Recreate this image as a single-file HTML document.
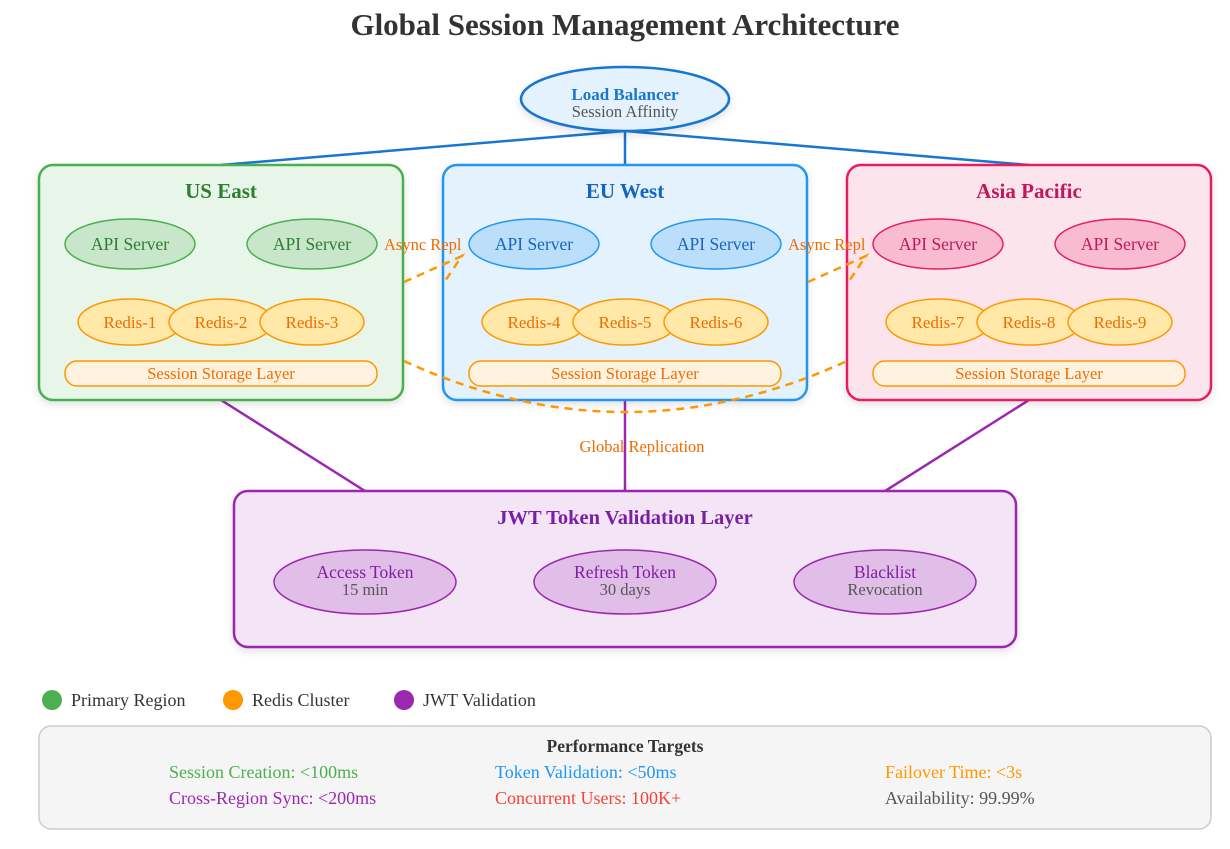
<!DOCTYPE html>
<html><head><meta charset="utf-8"><style>
body{margin:0;background:#fff;}
svg{display:block;font-family:"Liberation Serif",serif;}
</style></head><body>
<svg width="1230" height="849" viewBox="0 0 1230 849" xmlns="http://www.w3.org/2000/svg">
<defs><filter id="sh" x="-10%" y="-10%" width="120%" height="130%"><feDropShadow dx="0" dy="3" stdDeviation="4" flood-color="#000" flood-opacity="0.12"/></filter></defs>
<text x="625" y="35" text-anchor="middle" font-size="31" font-weight="bold" fill="#333">Global Session Management Architecture</text>
<g stroke="#1976d2" stroke-width="2.5">
<line x1="625" y1="131" x2="221" y2="165"/><line x1="625" y1="131" x2="625" y2="165"/><line x1="625" y1="131" x2="1029" y2="165"/>
</g>
<g stroke="#9c27b0" stroke-width="2.5">
<line x1="221" y1="400" x2="365" y2="491"/><line x1="625" y1="400" x2="625" y2="491"/><line x1="1029" y1="400" x2="885" y2="491"/>
</g>
<ellipse cx="625" cy="99" rx="104" ry="32" fill="#e3f2fd" stroke="#1976d2" stroke-width="2.5" filter="url(#sh)"/>
<text x="625" y="100" text-anchor="middle" font-size="17" font-weight="bold" fill="#1976d2">Load Balancer</text>
<text x="625" y="117" text-anchor="middle" font-size="16.5" fill="#555">Session Affinity</text>

<rect x="39" y="165" width="364" height="235" rx="14" fill="#e8f5e9" stroke="#4caf50" stroke-width="2.5" filter="url(#sh)"/>
<rect x="443" y="165" width="364" height="235" rx="14" fill="#e3f2fd" stroke="#2196f3" stroke-width="2.5" filter="url(#sh)"/>
<rect x="847" y="165" width="364" height="235" rx="14" fill="#fce4ec" stroke="#e91e63" stroke-width="2.5" filter="url(#sh)"/>
<g font-size="21" font-weight="bold" text-anchor="middle">
<text x="221" y="198" fill="#2e7d32">US East</text>
<text x="625" y="198" fill="#1565c0">EU West</text>
<text x="1029" y="198" fill="#c2185b">Asia Pacific</text>
</g>
<g font-size="17.5" text-anchor="middle">
<ellipse cx="130" cy="244" rx="65" ry="25" fill="#c8e6c9" stroke="#4caf50" stroke-width="1.5"/><text x="130" y="250" fill="#2e7d32">API Server</text>
<ellipse cx="312" cy="244" rx="65" ry="25" fill="#c8e6c9" stroke="#4caf50" stroke-width="1.5"/><text x="312" y="250" fill="#2e7d32">API Server</text>
<ellipse cx="534" cy="244" rx="65" ry="25" fill="#bbdefb" stroke="#2196f3" stroke-width="1.5"/><text x="534" y="250" fill="#1565c0">API Server</text>
<ellipse cx="716" cy="244" rx="65" ry="25" fill="#bbdefb" stroke="#2196f3" stroke-width="1.5"/><text x="716" y="250" fill="#1565c0">API Server</text>
<ellipse cx="938" cy="244" rx="65" ry="25" fill="#f8bbd0" stroke="#e91e63" stroke-width="1.5"/><text x="938" y="250" fill="#c2185b">API Server</text>
<ellipse cx="1120" cy="244" rx="65" ry="25" fill="#f8bbd0" stroke="#e91e63" stroke-width="1.5"/><text x="1120" y="250" fill="#c2185b">API Server</text>
</g>
<g font-size="17" text-anchor="middle" fill="#ef6c00">
<g fill="#ffe8a8" stroke="#ff9800" stroke-width="1.5">
<ellipse cx="130" cy="322" rx="52" ry="23"/><ellipse cx="221" cy="322" rx="52" ry="23"/><ellipse cx="312" cy="322" rx="52" ry="23"/>
<ellipse cx="534" cy="322" rx="52" ry="23"/><ellipse cx="625" cy="322" rx="52" ry="23"/><ellipse cx="716" cy="322" rx="52" ry="23"/>
<ellipse cx="938" cy="322" rx="52" ry="23"/><ellipse cx="1029" cy="322" rx="52" ry="23"/><ellipse cx="1120" cy="322" rx="52" ry="23"/>
<rect x="65" y="361" width="312" height="25" rx="12" fill="#fff3e0"/>
<rect x="469" y="361" width="312" height="25" rx="12" fill="#fff3e0"/>
<rect x="873" y="361" width="312" height="25" rx="12" fill="#fff3e0"/>
</g>
<text x="130" y="328">Redis-1</text><text x="221" y="328">Redis-2</text><text x="312" y="328">Redis-3</text>
<text x="534" y="328">Redis-4</text><text x="625" y="328">Redis-5</text><text x="716" y="328">Redis-6</text>
<text x="938" y="328">Redis-7</text><text x="1029" y="328">Redis-8</text><text x="1120" y="328">Redis-9</text>
<text x="221" y="379" font-size="16.5">Session Storage Layer</text>
<text x="625" y="379" font-size="16.5">Session Storage Layer</text>
<text x="1029" y="379" font-size="16.5">Session Storage Layer</text>
</g>
<g fill="none" stroke="#ff9800" stroke-width="2.5" stroke-dasharray="8,6">
<path d="M404,282 L462,256 L443,284"/>
<path d="M808,282 L866,256 L847,284"/>
<path d="M404,361 Q625,463 847,361"/>
</g>
<g font-size="16.5" fill="#ef6c00">
<text x="384" y="250">Async Repl</text>
<text x="788" y="250">Async Repl</text>
<text x="642" y="452" text-anchor="middle">Global Replication</text>
</g>

<rect x="234" y="491" width="782" height="156" rx="14" fill="#f3e5f5" stroke="#9c27b0" stroke-width="2.5" filter="url(#sh)"/>
<text x="625" y="524" text-anchor="middle" font-size="20.5" font-weight="bold" fill="#7b1fa2">JWT Token Validation Layer</text>
<g text-anchor="middle">
<ellipse cx="365" cy="582" rx="91" ry="32" fill="#e1bee7" stroke="#9c27b0" stroke-width="1.5"/>
<ellipse cx="625" cy="582" rx="91" ry="32" fill="#e1bee7" stroke="#9c27b0" stroke-width="1.5"/>
<ellipse cx="885" cy="582" rx="91" ry="32" fill="#e1bee7" stroke="#9c27b0" stroke-width="1.5"/>
<g font-size="17.5" fill="#7b1fa2"><text x="365" y="578">Access Token</text><text x="625" y="578">Refresh Token</text><text x="885" y="578">Blacklist</text></g>
<g font-size="16.5" fill="#555"><text x="365" y="595">15 min</text><text x="625" y="595">30 days</text><text x="885" y="595">Revocation</text></g>
</g>

<circle cx="52" cy="700" r="10" fill="#4caf50"/><text x="71" y="706" font-size="18" fill="#333">Primary Region</text>
<circle cx="233" cy="700" r="10" fill="#ff9800"/><text x="252" y="706" font-size="18" fill="#333">Redis Cluster</text>
<circle cx="404" cy="700" r="10" fill="#9c27b0"/><text x="423" y="706" font-size="18" fill="#333">JWT Validation</text>

<rect x="39" y="726" width="1172" height="103" rx="12" fill="#f5f5f5" stroke="#ccc" stroke-width="1.5"/>
<text x="625" y="752" text-anchor="middle" font-size="17.5" font-weight="bold" fill="#333">Performance Targets</text>
<g font-size="18">
<text x="169" y="778" fill="#4caf50">Session Creation: &lt;100ms</text>
<text x="495" y="778" fill="#2196f3">Token Validation: &lt;50ms</text>
<text x="885" y="778" fill="#ff9800">Failover Time: &lt;3s</text>
<text x="169" y="804" fill="#9c27b0">Cross-Region Sync: &lt;200ms</text>
<text x="495" y="804" fill="#f44336">Concurrent Users: 100K+</text>
<text x="885" y="804" fill="#555">Availability: 99.99%</text>
</g>
</svg>
</body></html>
